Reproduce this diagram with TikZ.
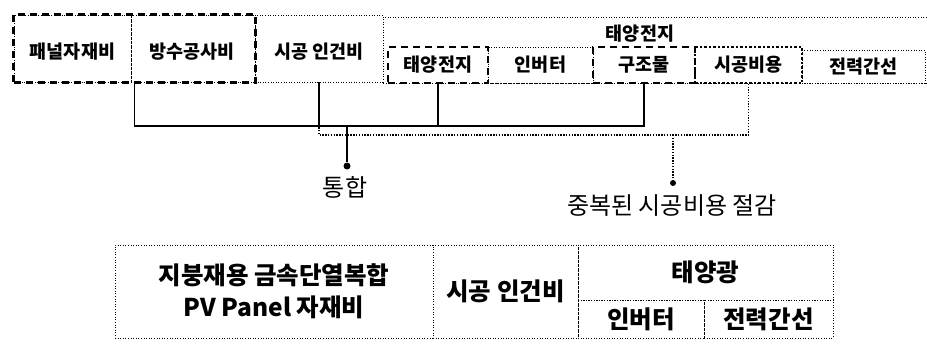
\documentclass[tikz,border=0pt]{standalone}
\usepackage{fontspec}
\newfontfamily\kr{Noto Sans CJK KR}
\usetikzlibrary{fit}
\begin{document}
\begin{tikzpicture}[x=1pt,y=-1pt,
  cellbase/.style={rectangle, inner sep=0pt, font=\kr\bfseries\fontsize{18.5}{21}\selectfont},
  dotcell/.style={cellbase, draw, line width=0.9pt, dash pattern=on 1pt off 1.6pt},
  thickbox/.style={cellbase, draw, line width=2.8pt, dash pattern=on 7pt off 5pt},
  dashcell/.style={cellbase, draw, line width=1.6pt, dash pattern=on 2.5pt off 2pt},
  plaintext/.style={inner sep=0pt, font=\kr\bfseries\fontsize{18.5}{21}\selectfont},
  conn/.style={line width=1.9pt},
  dotconn/.style={line width=1.3pt, dash pattern=on 1.3pt off 1.5pt},
  enddot/.style={circle, fill=black, inner sep=0pt, minimum size=7pt},
  lbl/.style={inner sep=0pt, font=\kr\fontsize{24}{27}\selectfont},
  tcell/.style={rectangle, inner sep=0pt, draw, line width=0.8pt, dash pattern=on 1pt off 1.6pt, align=center, font=\kr\bfseries\fontsize{24.5}{32}\selectfont}
]
\useasboundingbox (0,0) rectangle (927,343);
\clip (0,0) rectangle (927,343);

% top row, left part
\node[dotcell, minimum width=117pt, minimum height=67pt] (panel) at (72.5,48.5) {};
\node[plaintext] at (72.5,52) {패널자재비};
\node[dotcell, minimum width=124pt, minimum height=67pt] (bangsu) at (193,48.5) {};
\node[plaintext] at (192,52) {방수공사비};
\node[thickbox, fit=(panel)(bangsu), inner sep=0pt] (grpL) {};
\node[dotcell, minimum width=128pt, minimum height=67pt] (sigong) at (319,48.5) {};
\node[plaintext] at (319,52) {시공 인건비};

% big solar box
\node[dotcell, minimum width=560pt, minimum height=66pt] (solar) at (663,50) {};
\node[plaintext] (solart) at (640,34) {태양전지};

% inner cells
\node[thickbox, minimum width=100pt, minimum height=36pt] (sun) at (438,65) {태양전지};
\node[dotcell, minimum width=105pt, minimum height=36pt] (inv) at (540.5,65) {인버터};
\node[thickbox, minimum width=102pt, minimum height=36pt] (struct) at (644,65) {구조물};
\node[dashcell, minimum width=107pt, minimum height=36pt] (cost) at (748.5,65) {시공비용};
\node[dotcell, minimum width=123pt, minimum height=33pt] (wire) at (863.5,66.5) {전력간선};

% connectors: 통합
\coordinate (hub1) at (347,126);
\node[enddot] (d1) at (347,166) {};
\draw[conn] (grpL.south) |- (hub1) -| (struct.south);
\draw[conn] (sigong.south) -- (sigong.south |- hub1);
\draw[conn] (sun.south) -- (sun.south |- hub1);
\draw[conn] (hub1) -- (d1);
\node[lbl] (l1) at (345,187) {통합};

% connectors: 중복된 시공비용 절감
\coordinate (hub2) at (673,135);
\node[enddot, minimum size=6pt] (d2) at (673,183) {};
\draw[dotconn] (sigong.south) |- (hub2) -| (cost.south);
\draw[dotconn] (hub2) -- (d2);
\node[lbl] (l2) at (672,206) {중복된 시공비용 절감};

% bottom table
\node[tcell, minimum width=318pt, minimum height=93pt] (tA) at (274,291.5) {지붕재용 금속단열복합\\PV Panel 자재비};
\node[tcell, minimum width=145pt, minimum height=93pt] (tB) at (505.5,291.5) {시공 인건비};
\node[tcell, minimum width=255pt, minimum height=55pt] (tC) at (705.5,272.5) {태양광};
\node[tcell, minimum width=126pt, minimum height=38pt] (tD) at (641,319) {인버터};
\node[tcell, minimum width=129pt, minimum height=38pt] (tE) at (768.5,319) {전력간선};
\end{tikzpicture}
\end{document}
